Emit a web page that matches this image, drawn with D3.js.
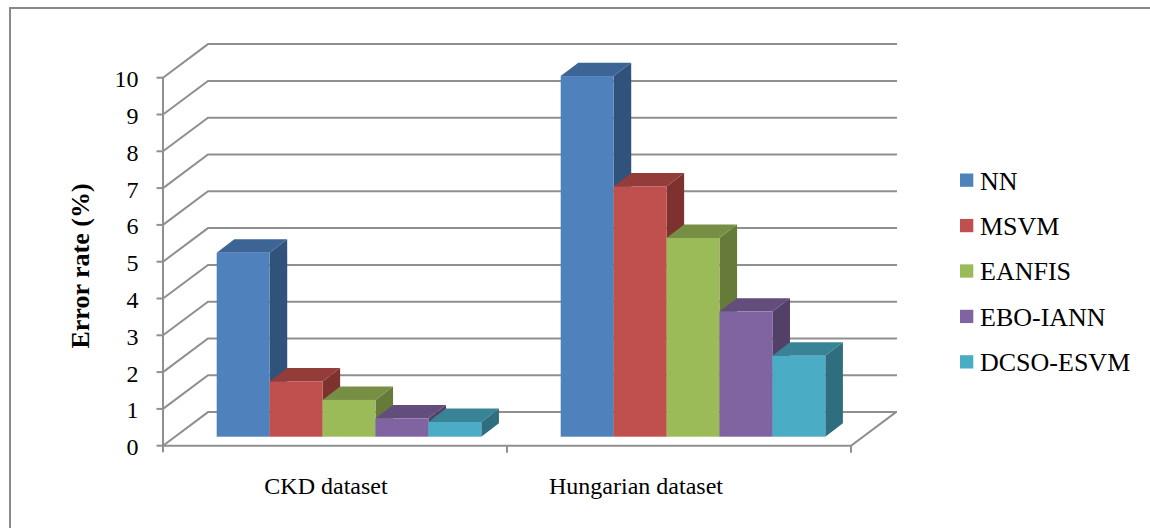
<!DOCTYPE html>
<html>
<head>
<meta charset="utf-8">
<script src="https://cdn.jsdelivr.net/npm/d3@7"></script>
<style>
  html, body { margin: 0; padding: 0; background: #fff; }
  svg { display: block; }
  text { font-family: "Liberation Serif", "Times New Roman", serif; fill: #000; }
</style>
</head>
<body>
<svg id="chart" width="1150" height="528"></svg>
<script>
// ---- data ----
const categories = ["CKD dataset", "Hungarian dataset"];
const seriesNames = ["NN", "MSVM", "EANFIS", "EBO-IANN", "DCSO-ESVM"];
const ckdValues = [5.0, 1.5, 1.0, 0.5, 0.4];
const hungarianValues = [9.8, 6.8, 5.4, 3.4, 2.2];
const yTickValues = [0, 1, 2, 3, 4, 5, 6, 7, 8, 9, 10];

const valuesByCategory = [ckdValues, hungarianValues];

// face colours: front, top, side
const frontColors = ["#4F81BD", "#C0504D", "#9BBB59", "#8064A2", "#4BACC6"];
const topColors   = ["#3C6494", "#943C3A", "#778F44", "#634D7C", "#388395"];
const sideColors  = ["#31527A", "#7D3230", "#667A39", "#534068", "#2F6E7E"];

const svg = d3.select("#chart");

// outer frame
svg.append("rect")
  .attr("x", 10).attr("y", 8).attr("width", 1300).attr("height", 700)
  .attr("fill", "none").attr("stroke", "#8a8a8a").attr("stroke-width", 2);

// ---- 3D geometry ----
const front = { left: 163, right: 851 };
const depthX = 45, depthY = 33.6;     // offset of the back wall
const barShiftX = 14, barShiftY = 9;  // front face of the bars
const barDepthX = 17.6, barDepthY = 13.4;

const y = d3.scaleLinear().domain([0, 10]).range([445.7, 77.7]);
const x0 = d3.scaleBand().domain(categories).range([front.left, front.right])
  .paddingInner(0).paddingOuter(0);
// each cluster: 5 bars with 1.5 bar-widths of gap (150%)
const groupPad = 0.75 / 6.5;
const x1 = d3.scaleBand().domain(seriesNames)
  .range([x0.bandwidth() * groupPad, x0.bandwidth() * (1 - groupPad)])
  .padding(0);
const labelX = d3.scalePoint().domain(categories).range([326, 636]);

const gridColor = "#8f8f8f";
const grid = svg.append("g").attr("fill", "none").attr("stroke", gridColor).attr("stroke-width", 2);

// back wall gridlines and side wall diagonals
yTickValues.forEach(v => {
  const yf = y(v), yb = y(v) - depthY;
  grid.append("path")
    .attr("d", d3.line()([[front.left, yf], [front.left + depthX, yb], [front.right + depthX + 1, yb]]));
});
// floor front edge and right edge
grid.append("path")
  .attr("d", d3.line()([[front.left, y(0)], [front.right, y(0)], [front.right + depthX, y(0) - depthY]]));
// vertical axis
grid.append("line")
  .attr("x1", front.left).attr("x2", front.left)
  .attr("y1", y(10)).attr("y2", y(0) + 6.5);
// value ticks
yTickValues.forEach(v => {
  grid.append("line")
    .attr("x1", front.left - 6.5).attr("x2", front.left)
    .attr("y1", y(v)).attr("y2", y(v));
});
// category ticks
[x0.range()[0] + x0.bandwidth(), front.right].forEach(px => {
  grid.append("line")
    .attr("x1", px).attr("x2", px)
    .attr("y1", y(0)).attr("y2", y(0) + 7);
});

// ---- bars ----
const bars = svg.append("g");
categories.forEach((cat, ci) => {
  valuesByCategory[ci].forEach((v, si) => {
    const xl = x0(cat) + x1(seriesNames[si]) + barShiftX;
    const xr = xl + x1.bandwidth();
    const yb = y(0) - barShiftY;
    const yt = y(v) - barShiftY;
    const g = bars.append("g");
    // side face
    g.append("path")
      .attr("d", d3.line()([[xr, yb], [xr + barDepthX, yb - barDepthY], [xr + barDepthX, yt - barDepthY], [xr, yt]]) + "Z")
      .attr("fill", sideColors[si]);
    // top face
    g.append("path")
      .attr("d", d3.line()([[xl, yt], [xl + barDepthX, yt - barDepthY], [xr + barDepthX, yt - barDepthY], [xr, yt]]) + "Z")
      .attr("fill", topColors[si]);
    // front face
    g.append("rect")
      .attr("x", xl).attr("y", yt)
      .attr("width", x1.bandwidth()).attr("height", yb - yt)
      .attr("fill", frontColors[si]);
  });
});

// ---- axis labels ----
svg.append("g").selectAll("text").data(yTickValues).join("text")
  .attr("x", 138.5).attr("y", d => y(d) + 1.5)
  .attr("text-anchor", "end").attr("dominant-baseline", "central")
  .attr("font-size", 24)
  .text(d => d);

svg.append("g").selectAll("text").data(categories).join("text")
  .attr("x", d => labelX(d)).attr("y", 494)
  .attr("text-anchor", "middle")
  .attr("font-size", 24)
  .text(d => d);

svg.append("text")
  .attr("transform", "translate(80,266) rotate(-90)")
  .attr("text-anchor", "middle").attr("dominant-baseline", "central")
  .attr("font-size", 26).attr("font-weight", "bold")
  .text("Error rate (%)");

// ---- legend ----
const legend = svg.append("g");
const legendY = d3.scalePoint().domain(seriesNames).range([180, 361.7]);
seriesNames.forEach((name, i) => {
  legend.append("rect")
    .attr("x", 960).attr("y", legendY(name) - 6.5)
    .attr("width", 13.3).attr("height", 13.3)
    .attr("fill", frontColors[i]);
  legend.append("text")
    .attr("x", 980).attr("y", legendY(name) + 1)
    .attr("dominant-baseline", "central")
    .attr("font-size", 26)
    .text(name);
});
</script>
</body>
</html>
